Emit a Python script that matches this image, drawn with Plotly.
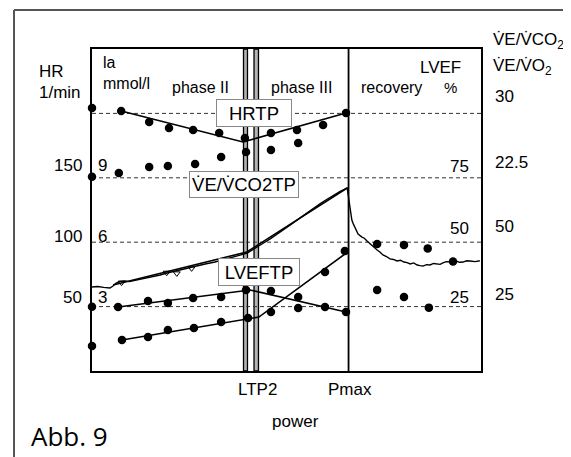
import plotly.graph_objects as go

# ---------------- data (x: power, arbitrary units 0-100; y: HR scale 1/min) -------------
rest_x = [0, 0, 0, 0]
rest_y = [204.2, 150.8, 49.8, 19.4]

hr_x = [7.5, 14.7, 19.8, 26.0, 32.7, 39.3, 46.0, 52.7, 59.4, 65.3]
hr_y = [201.9, 193.3, 188.7, 187.1, 184.8, 180.9, 184.8, 187.1, 191.0, 200.3]
hr_fit_x = [7.5, 38.8, 65.3]
hr_fit_y = [201.9, 177.8, 200.3]

vevo2_x = [6.9, 14.7, 19.5, 26.5, 33.2, 39.6, 46.0, 53.0]
vevo2_y = [153.7, 158.4, 159.2, 160.7, 166.1, 170.0, 171.6, 177.0]

lvef_x = [6.7, 14.4, 19.5, 26.0, 33.2, 39.6, 46.0, 53.0, 59.9, 65.3]
lvef_y = [49.7, 54.3, 52.8, 56.7, 57.5, 62.9, 62.1, 48.9, 49.7, 45.8]
lvef_fit_x = [6.7, 40.6, 65.3]
lvef_fit_y = [49.7, 62.9, 45.8]

la_x = [7.7, 14.4, 19.5, 26.2, 33.2, 40.1, 46.0, 53.0, 59.9, 65.0]
la_y = [24.1, 26.4, 31.8, 33.4, 38.0, 41.1, 45.8, 57.5, 76.9, 93.2]
la_fit_x = [7.7, 42.9, 65.0]
la_fit_y = [24.1, 41.9, 90.8]

rec_upper_x = [73.3, 80.2, 86.3]
rec_upper_y = [98.6, 97.8, 95.2]
rec_lower_x = [73.3, 80.2, 86.6]
rec_lower_y = [62.9, 57.5, 49.2]
rec_curve_x = [92.8]
rec_curve_y = [85.0]

ve_x = [0, 1.5, 3.0, 4.6, 5.4, 6.2, 7.2, 8.5, 9.6, 11.1, 12.5, 14.1, 15.8, 17.5, 19.3, 21.3,
        23.2, 25.2, 27.1, 29.1, 31.6, 34.2, 36.8, 38.3, 39.9,
        41.9, 43.7, 45.8, 48.3, 50.9, 53.5, 56.0, 57.4, 58.6, 59.9, 61.2, 62.5, 63.8, 65.6,
        66.3, 66.8, 67.2, 67.6, 68.0, 68.4, 69.4, 70.0, 70.7, 71.3, 72.0, 72.6, 73.3, 74.0,
        74.8, 75.7, 76.6, 77.5, 78.4, 79.3, 80.2, 81.0, 81.8, 82.7, 83.6, 84.3, 85.1, 86.0,
        86.9, 87.8, 88.7, 89.5, 90.2, 91.1, 92.0, 92.8, 93.6, 94.5, 95.4, 96.3, 97.2, 98.5, 99.7]
ve_y = [65.2, 65.6, 64.9, 64.4, 66.0, 68.3, 69.6, 69.9, 69.4, 70.3, 71.6, 72.2, 73.0, 74.5, 76.1, 77.6,
        78.6, 80.0, 81.9, 83.1, 84.6, 87.0, 89.3, 90.2, 91.6,
        95.0, 98.6, 102.6, 107.6, 113.2, 118.9, 124.6, 127.2, 129.8, 132.4, 134.9, 137.2, 139.5, 142.1,
        128.9, 117.2, 114.0, 111.0, 109.5, 106.4, 104.0, 103.1, 100.9, 99.2, 97.0, 95.9, 93.9, 92.4,
        90.1, 88.9, 87.0, 86.6, 85.4, 86.0, 84.6, 84.1, 83.1, 83.9, 82.3, 81.8, 81.5, 82.6,
        82.3, 83.5, 83.1, 82.8, 83.9, 84.9, 84.6, 85.4, 85.4, 84.4, 84.6, 85.6, 85.4, 84.9, 85.6]
ve_fit_x = [5.4, 39.8, 65.6]
ve_fit_y = [66.8, 92.4, 142.1]
ve_tri_x = [7.6, 19.2, 21.8, 25.6]
ve_tri_y = [68.6, 76.3, 75.8, 79.7]

dash_levels = [50, 100, 150, 200]
ltp2_bands = [(38.95, 39.97), (41.65, 42.8)]
pmax_x = 65.95

hr_ticks = ["150", "100", "50"]
la_ticks = ["9", "6", "3"]
lvef_ticks = ["75", "50", "25"]
vent_ticks = ["30", "22.5", "50", "25"]

# ---------------- layout geometry ----------------
# the page body has an 8 px margin, so the figure starts at (8, 8) in the window
OFF = 8
W, H = 571 - OFF, 457 - OFF
L, R, T, B = 92 - OFF, 481 - OFF, 49 - OFF, 371 - OFF
FONT = "Liberation Sans, Arial, sans-serif"


def pxx(x):
    return (x - OFF - L) / (R - L)


def pxy(y):
    return (B - (y - OFF)) / (B - T)


fig = go.Figure()

line_style = dict(color="black", width=1.6)
fig.add_trace(go.Scatter(x=ve_x, y=ve_y, mode="lines", line=dict(color="black", width=1.4),
                         cliponaxis=False))
fig.add_trace(go.Scatter(x=ve_fit_x, y=ve_fit_y, mode="lines", line=line_style))
fig.add_trace(go.Scatter(x=ve_tri_x, y=ve_tri_y, mode="markers",
                         marker=dict(symbol="triangle-down-open", size=6, color="black",
                                     line=dict(width=1))))
for fx, fy in [(hr_fit_x, hr_fit_y), (lvef_fit_x, lvef_fit_y), (la_fit_x, la_fit_y)]:
    fig.add_trace(go.Scatter(x=fx, y=fy, mode="lines", line=line_style))

dot = dict(color="black", size=8.5)
for dx, dy in [(rest_x, rest_y), (hr_x, hr_y), (vevo2_x, vevo2_y), (lvef_x, lvef_y),
               (la_x, la_y), (rec_upper_x, rec_upper_y), (rec_lower_x, rec_lower_y),
               (rec_curve_x, rec_curve_y)]:
    fig.add_trace(go.Scatter(x=dx, y=dy, mode="markers", marker=dot, cliponaxis=False))

shapes = []
for lv in dash_levels:
    shapes.append(dict(type="line", xref="x", yref="y", x0=0, x1=100, y0=lv, y1=lv,
                       line=dict(color="#333", width=1, dash="4px,3px"), layer="below"))
for x0, x1 in ltp2_bands:
    shapes.append(dict(type="rect", xref="x", yref="paper", x0=x0, x1=x1, y0=0, y1=1,
                       fillcolor="#b4b4b4", line=dict(color="black", width=1.3), layer="below"))
shapes.append(dict(type="line", xref="x", yref="paper", x0=pmax_x, x1=pmax_x, y0=0, y1=1,
                   line=dict(color="black", width=1.8)))
# outer frame (cropped box)
shapes.append(dict(type="line", xref="paper", yref="paper", x0=pxx(14), x1=pxx(14),
                   y0=pxy(460), y1=pxy(10), line=dict(color="#555", width=2)))
shapes.append(dict(type="line", xref="paper", yref="paper", x0=pxx(14), x1=pxx(575),
                   y0=pxy(10), y1=pxy(10), line=dict(color="#555", width=2)))

ann = []


def text(t, x, y, anchor="center", size=17, font=FONT, **kw):
    ann.append(dict(text=t, x=pxx(x), y=pxy(y), xref="paper", yref="paper",
                    xanchor=anchor, yanchor="middle", showarrow=False,
                    font=dict(family=font, size=size, color="black"), **kw))


def box(t, x, y, w, h, size=18.5):
    ann.append(dict(text=t, x=pxx(x), y=pxy(y), xref="paper", yref="paper",
                    xanchor="center", yanchor="middle", showarrow=False,
                    width=w, height=h, bgcolor="white", bordercolor="#888",
                    borderwidth=1, borderpad=0,
                    font=dict(family=FONT, size=size, color="black")))


text("HR", 37, 71, "left")
text("1/min", 37, 92, "left")
text("la", 101, 62, "left", size=16)
text("mmol/l", 101, 83, "left", size=16)
text("phase II", 200, 88, size=16)
text("phase III", 301, 88, size=16)
text("recovery", 391, 88, size=16)
text("LVEF", 463, 68, "right")
text("%", 450, 88, size=15)
text("V̇E/V̇CO<sub>2</sub>", 491, 41, "left")
text("V̇E/V̇O<sub>2</sub>", 491, 67, "left")

for t, yy in zip(hr_ticks, [165, 236, 297]):
    text(t, 84, yy, "right")
for t, yy in zip(la_ticks, [165, 236, 297]):
    text(t, 96, yy, "left")
for t, yy in zip(lvef_ticks, [166, 229, 297]):
    text(t, 471, yy, "right")
for t, yy in zip(vent_ticks, [97, 162, 226, 294]):
    text(t, 493, yy, "left")

text("LTP2", 257.5, 389)
text("Pmax", 350, 389)
text("power", 295, 421)
text("Abb. 9", 29, 436, "left", size=26, font="Open Sans, Noto Sans, sans-serif")

box("HRTP", 254, 113, 74, 26)
box("V̇E/V̇CO2TP", 244, 184.5, 108, 25)
box("LVEFTP", 259, 272, 80, 26)

axis = dict(showgrid=False, zeroline=False, showticklabels=False, ticks="",
            showline=True, mirror=True, linecolor="black", linewidth=2, fixedrange=True)
fig.update_layout(
    width=W, height=H, autosize=False,
    margin=dict(l=L, r=W - R, t=T, b=H - B, pad=0),
    paper_bgcolor="white", plot_bgcolor="white",
    showlegend=False,
    xaxis={**axis, "range": [0, 100]},
    yaxis={**axis, "range": [0, 250]},
    shapes=shapes, annotations=ann,
)

fig.write_html("out.html")
